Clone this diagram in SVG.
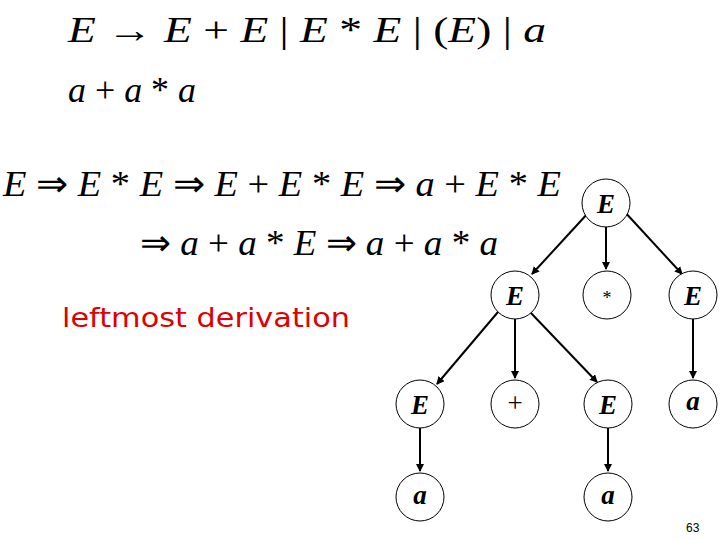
<svg xmlns="http://www.w3.org/2000/svg" width="720" height="540" viewBox="0 0 720 540">
<style>
.m{font-family:"Liberation Serif",serif;font-size:36px;font-style:italic;fill:#000}
.o{font-style:normal}
.n{fill:#fff;stroke:#000;stroke-width:1}
.l{font-family:"Liberation Serif",serif;font-size:27px;font-style:italic;font-weight:bold;fill:#000;text-anchor:middle}
.c line{stroke:#000;stroke-width:2;marker-end:url(#ah)}
</style>
<defs><marker id="ah" markerWidth="8" markerHeight="8" refX="7" refY="4" orient="auto" markerUnits="userSpaceOnUse"><path d="M0,0L8,4L0,8z" fill="#000"/></marker></defs>
<rect width="720" height="540" fill="#fff"/>
<text class="m" x="68" y="42" textLength="478" lengthAdjust="spacingAndGlyphs">E<tspan class="o"> → </tspan>E<tspan class="o"> + </tspan>E<tspan class="o">    |  </tspan>E<tspan class="o"> * </tspan>E<tspan class="o">  |  (</tspan>E<tspan class="o">)  |  </tspan>a</text>
<text class="m" x="68" y="102" textLength="128" lengthAdjust="spacingAndGlyphs">a<tspan class="o"> + </tspan>a<tspan class="o"> * </tspan>a</text>
<text class="m" x="3" y="196" textLength="558" lengthAdjust="spacingAndGlyphs">E<tspan class="o"> ⇒ </tspan>E<tspan class="o"> * </tspan>E<tspan class="o"> ⇒ </tspan>E<tspan class="o"> + </tspan>E<tspan class="o"> * </tspan>E<tspan class="o"> ⇒ </tspan>a<tspan class="o"> + </tspan>E<tspan class="o"> * </tspan>E</text>
<text class="m" x="140" y="255" textLength="358" lengthAdjust="spacingAndGlyphs"><tspan class="o">⇒ </tspan>a<tspan class="o"> + </tspan>a<tspan class="o"> * </tspan>E<tspan class="o"> ⇒ </tspan>a<tspan class="o"> + </tspan>a<tspan class="o"> * </tspan>a</text>
<text x="62" y="327" font-family="DejaVu Sans,sans-serif" font-size="26" fill="#e00000" textLength="288" lengthAdjust="spacingAndGlyphs">leftmost derivation</text>
<text x="686" y="532" font-family="Liberation Sans,sans-serif" font-size="12" fill="#000">63</text>
<g class="c" id="connectors">
<line x1="589" y1="212" x2="532" y2="274"/>
<line x1="606" y1="226" x2="606" y2="269"/>
<line x1="623" y1="210" x2="682" y2="274"/>
<line x1="498" y1="312" x2="437" y2="384"/>
<line x1="515" y1="319" x2="515" y2="378"/>
<line x1="530" y1="312" x2="597" y2="382"/>
<line x1="693" y1="319" x2="693" y2="378"/>
<line x1="420" y1="428" x2="420" y2="471"/>
<line x1="608" y1="428" x2="608" y2="471"/>
</g>
<g id="root"><circle class="n" cx="606" cy="203" r="24"/><text class="l" x="606" y="213">E</text></g>
<g id="e1"><circle class="n" cx="515" cy="295" r="24"/><text class="l" x="515" y="305">E</text></g>
<g id="star"><circle class="n" cx="607" cy="295" r="24"/><text class="l" x="607" y="304" style="font-style:normal;font-weight:normal;font-size:18px">*</text></g>
<g id="e2"><circle class="n" cx="693" cy="295" r="24"/><text class="l" x="693" y="305">E</text></g>
<g id="e3"><circle class="n" cx="420" cy="404" r="24"/><text class="l" x="420" y="414">E</text></g>
<g id="plus"><circle class="n" cx="515" cy="404" r="24"/><text class="l" x="515" y="412" style="font-style:normal;font-weight:normal">+</text></g>
<g id="e4"><circle class="n" cx="608" cy="404" r="24"/><text class="l" x="608" y="414">E</text></g>
<g id="a1"><circle class="n" cx="693" cy="404" r="24"/><text class="l" x="693" y="410">a</text></g>
<g id="a2"><circle class="n" cx="420" cy="497" r="24"/><text class="l" x="420" y="504">a</text></g>
<g id="a3"><circle class="n" cx="608" cy="497" r="24"/><text class="l" x="608" y="504">a</text></g>
</svg>
